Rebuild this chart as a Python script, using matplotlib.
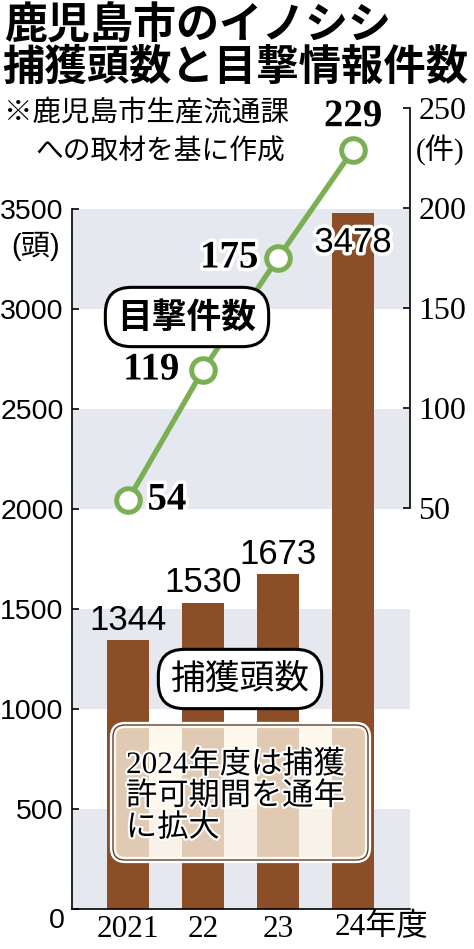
import matplotlib
matplotlib.use("Agg")
import matplotlib.pyplot as plt
import matplotlib.patheffects as pe
from matplotlib.patches import FancyBboxPatch

plt.rcParams['font.family'] = ['Liberation Sans', 'Noto Sans CJK JP']

# ---- data ----
years = ["2021", "22", "23", "24年度"]
captures = [1344, 1530, 1673, 3478]
sightings = [54, 119, 175, 229]
left_ticks = [0, 500, 1000, 1500, 2000, 2500, 3000, 3500]
right_ticks = [50, 100, 150, 200, 250]

BROWN = "#8C4E27"
GREEN = "#7BAF55"
BAND = "#E5E9EF"
SERIF = ['Liberation Serif', 'Noto Sans CJK JP']

W, H = 474, 949
fig = plt.figure(figsize=(W / 100, H / 100), dpi=100)
fig.patch.set_facecolor("white")

def fx(px):
    return px / W

def fy(py):
    return 1 - py / H

ax = fig.add_axes([fx(72), fy(909), fx(410) - fx(72), fy(100) - fy(909)])
ax.set_facecolor("none")
x = list(range(len(years)))
ax.set_xlim(-0.747, 3.76)
ax.set_ylim(0, 4045)

# bands
for lo in [0, 1000, 2000, 3000]:
    ax.axhspan(lo, lo + 500, color=BAND, lw=0, zorder=0)

bars = ax.bar(x, captures, width=0.56, color=BROWN, zorder=2)

for xi, v in zip(x, captures):
    if v > 3000:
        ax.annotate(f"{v}", (xi, v), xytext=(0, -21), textcoords="offset points",
                    ha="center", va="center", fontsize=25, color="black", zorder=5,
                    path_effects=[pe.withStroke(linewidth=5, foreground="white")])
    else:
        ax.annotate(f"{v}", (xi, v), xytext=(0, 14.5), textcoords="offset points",
                    ha="center", va="center", fontsize=25, color="black", zorder=5)

for s in ["top", "right"]:
    ax.spines[s].set_visible(False)
ax.spines["left"].set_bounds(0, 3500)
ax.spines["left"].set_linewidth(1.2)
ax.spines["bottom"].set_linewidth(1.2)
ax.set_yticks(left_ticks)
ax.set_yticklabels([("" if t == 0 else str(t)) for t in left_ticks])
ax.tick_params(axis="y", direction="in", length=5, width=1.2, pad=6, labelsize=20.5)
ax.annotate("0", xy=(0, 0), xycoords=("axes fraction", "data"), xytext=(-11, -8.5),
            textcoords="offset points", ha="center", va="center", fontsize=20.5)
ax.set_xticks(x[:3])
ax.set_xticklabels(years[:3], fontfamily=SERIF, fontsize=22.5)
ax.tick_params(axis="x", length=0, pad=4)
ax.annotate(years[3], xy=(x[3], 0), xycoords="data", xytext=(-13, -13),
            textcoords="offset points", ha="left", va="center", fontsize=22.5,
            family=SERIF)

# right axis
ax2 = ax.twinx()
ax2.set_ylim(-150.5, 254)
for s in ["top", "left", "bottom"]:
    ax2.spines[s].set_visible(False)
ax2.spines["right"].set_bounds(50, 250)
ax2.spines["right"].set_linewidth(1.2)
ax2.set_yticks(right_ticks)
ax2.set_yticklabels([str(t) for t in right_ticks], fontfamily=SERIF, fontsize=23)
ax2.tick_params(axis="y", direction="in", length=5, width=1.2, pad=6)

ax2.plot(x, sightings, color=GREEN, lw=3.8, marker="o", ms=17, mfc="white",
         mec=GREEN, mew=3.6, zorder=3)
offs = [(14, 0, "left"), (-17, 0, "right"), (-14, 0, "right"), (0, 24, "center")]
for xi, v, (dx, dy, ha) in zip(x, sightings, offs):
    ax2.annotate(f"{v}", (xi, v), xytext=(dx, dy), textcoords="offset points",
                 ha=ha, va="center", fontsize=28, fontweight="bold", family=SERIF,
                 zorder=6, path_effects=[pe.withStroke(linewidth=5, foreground="white")])

# unit labels
fig.text(fx(36), fy(246), "(頭)", ha="center", va="center", fontsize=21)
fig.text(fx(440), fy(151), "(件)", ha="center", va="center", fontsize=21, family=SERIF)

# title
fig.text(fx(4), fy(26), "鹿児島市のイノシシ", ha="left", va="center", fontsize=31,
         fontweight="bold", family="Noto Sans CJK JP")
fig.text(fx(2), fy(68), "捕獲頭数と目撃情報件数", ha="left", va="center", fontsize=30.5,
         fontweight="bold", family="Noto Sans CJK JP")
fig.text(fx(4), fy(113), "※鹿児島市生産流通課", ha="left", va="center", fontsize=20.5,
         family="Noto Sans CJK JP")
fig.text(fx(35), fy(152), "への取材を基に作成", ha="left", va="center", fontsize=20,
         family="Noto Sans CJK JP")

# legend-like pill labels
pill = dict(boxstyle="round,pad=0.35,rounding_size=0.75", fc="white", ec="black", lw=2.2)
fig.text(fx(187), fy(317), "目撃件数", ha="center", va="center", fontsize=25,
         fontweight="bold", family="Noto Sans CJK JP", bbox=pill, zorder=7)
fig.text(fx(240), fy(679), "捕獲頭数", ha="center", va="center", fontsize=25,
         family="Noto Sans CJK JP", bbox=pill, zorder=7)

# note box
bx, by, bw, bh = 113 / 100, (H - 860) / 100, (368 - 113) / 100, (860 - 725) / 100
rim = FancyBboxPatch((bx, by), bw, bh, boxstyle="round,pad=0,rounding_size=0.12",
                     transform=fig.dpi_scale_trans, fc="none", ec="white",
                     lw=4.5, zorder=5.9)
fig.patches.append(rim)
box = FancyBboxPatch((bx, by), bw, bh, boxstyle="round,pad=0,rounding_size=0.12",
                     transform=fig.dpi_scale_trans, fc="#FFF6E6", alpha=0.74,
                     ec="none", zorder=6)
fig.patches.append(box)
box2 = FancyBboxPatch((bx, by), bw, bh, boxstyle="round,pad=0,rounding_size=0.12",
                      transform=fig.dpi_scale_trans, fc="none", ec="#5A4030",
                      lw=1.0, zorder=6.5)
fig.patches.append(box2)
fig.text(fx(126), fy(797), "2024年度は捕獲\n許可期間を通年\nに拡大", ha="left", va="center",
         fontsize=22.5, linespacing=1.12, family=SERIF, zorder=8,
         path_effects=[pe.withStroke(linewidth=3, foreground="white")])

fig.savefig("out.png", dpi=100)
